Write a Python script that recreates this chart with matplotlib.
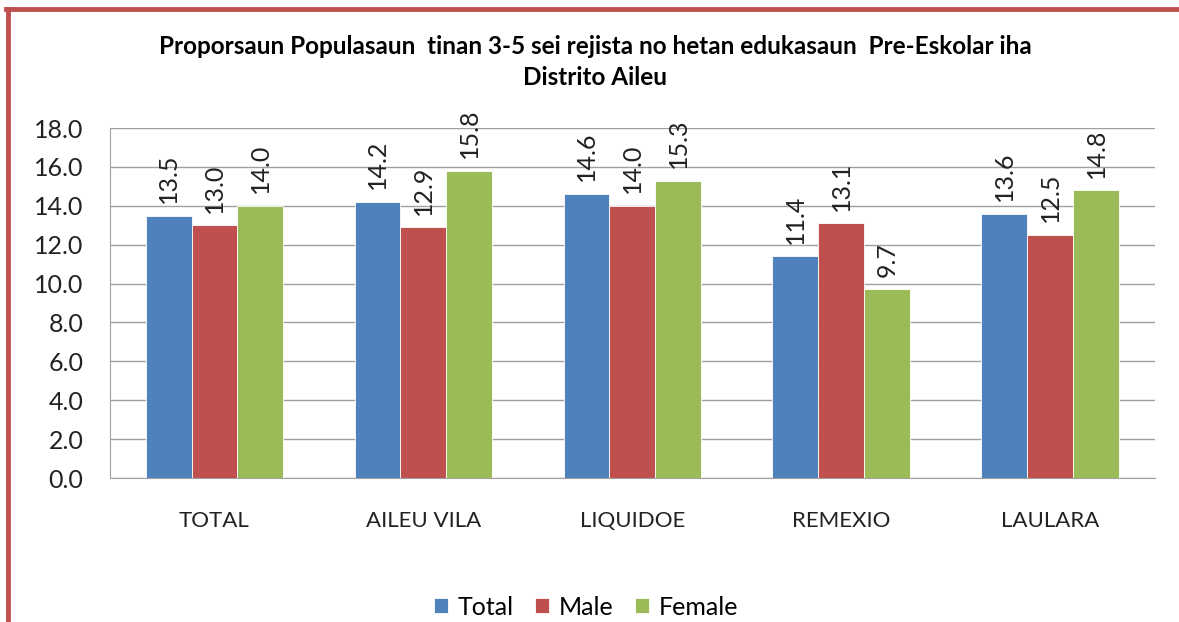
import numpy as np
import matplotlib.pyplot as plt

# Data
categories = ['TOTAL', 'AILEU VILA', 'LIQUIDOE', 'REMEXIO', 'LAULARA']
total = [13.5, 14.2, 14.6, 11.4, 13.6]
male = [13.0, 12.9, 14.0, 13.1, 12.5]
female = [14.0, 15.8, 15.3, 9.7, 14.8]
series_names = ['Total', 'Male', 'Female']
colors = ['#4F81BD', '#C0504D', '#9BBB59']

plt.rcParams['font.family'] = ['Lato', 'DejaVu Sans']

fig = plt.figure(figsize=(11.79, 6.22), dpi=100)
ax = fig.add_axes([0.0933, 0.2315, 0.8863, 0.5627])

x = np.arange(len(categories))
width = 0.22
for i, (vals, name, col) in enumerate(zip([total, male, female], series_names, colors)):
    pos = x + (i - 1) * width
    bars = ax.bar(pos, vals, width, color=col, label=name, edgecolor='white', linewidth=0.6, zorder=3)
    for b, v in zip(bars, vals):
        ax.text(b.get_x() + b.get_width() / 2, v + 0.65, f'{v:.1f}', rotation=90,
                ha='center', va='bottom', fontsize=18, color='#222222')

ax.set_xlim(-0.5, len(categories) - 0.5)
ax.set_ylim(0, 18)
ax.set_yticks(np.arange(0, 18.1, 2))
ax.set_yticklabels([f'{t:.1f}' for t in np.arange(0, 18.1, 2)])
ax.set_xticks(x)
ax.set_xticklabels(categories)
ax.tick_params(axis='y', labelsize=18, length=0, pad=19, colors='#222222')
ax.tick_params(axis='x', labelsize=16, length=0, pad=24, colors='#222222')
ax.grid(axis='y', color='#a0a0a0', linewidth=1, zorder=0)
for s in ['top', 'right']:
    ax.spines[s].set_visible(False)
ax.spines['left'].set_color('#a0a0a0')
ax.spines['bottom'].set_color('#a0a0a0')

fig.text(0.505, 0.9, 'Proporsaun Populasaun  tinan 3-5 sei rejista no hetan edukasaun  Pre-Eskolar iha\nDistrito Aileu',
         ha='center', va='center', fontsize=17.5, fontweight='bold', linespacing=1.45)

leg = fig.legend(loc='center', bbox_to_anchor=(0.497, 0.024), ncol=3, frameon=False,
                 fontsize=18, handlelength=0.55, handleheight=0.55, handletextpad=0.4, columnspacing=0.85)

# red outer border (left and top visible)
fig.add_artist(plt.Line2D([0.0068, 0.0068], [0, 0.985], color='#C0504D', linewidth=3.5, transform=fig.transFigure))
fig.add_artist(plt.Line2D([0.005, 1.0], [0.985, 0.985], color='#C0504D', linewidth=3.5, transform=fig.transFigure))

fig.savefig('out.png', dpi=100)
